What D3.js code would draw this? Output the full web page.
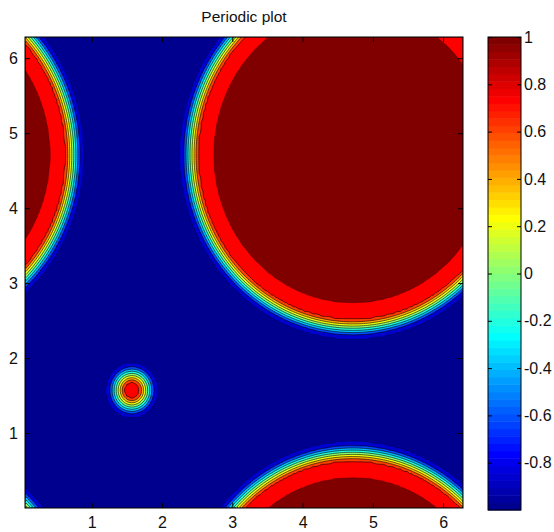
<!DOCTYPE html>
<html>
<head>
<meta charset="utf-8">
<script src="https://cdn.jsdelivr.net/npm/d3@7"></script>
<style>
  body { margin: 0; background: #fff; }
  svg { display: block; font-family: "Liberation Sans", Arial, sans-serif; }
  .tick text { fill: #111; }
</style>
</head>
<body>
<div id="chart"></div>
<script>
const TWO_PI = 2 * Math.PI;

// axis limits and ticks
const xDomain = [TWO_PI / 128, TWO_PI];
const yDomain = [0, TWO_PI];
const xTicks = [1, 2, 3, 4, 5, 6];
const yTicks = [1, 2, 3, 4, 5, 6];
const colorDomain = [-1, 1];
const colorTicks = [-0.8, -0.6, -0.4, -0.2, 0, 0.2, 0.4, 0.6, 0.8, 1];

// droplets in the periodic box (centre and edge radius)
const dropletX = [3 * Math.PI / 2, Math.PI / 2];
const dropletY = [3 * Math.PI / 2, Math.PI / 2];
const dropletR = [2.2, 0.11];

// radial profile across the interface: distance past the edge -> value
const profileS = [-0.5, -0.22, 0, 0.2, 0.25, 0.45];
const profileU = [1, 0.9, 0.7, -0.7, -0.9, -1];

// contour levels and the value used to colour each band
const levels = [-0.9, -0.7, -0.5, -0.3, -0.1, 0.1, 0.3, 0.5, 0.7, 0.9];
const bandValues = [-1, -0.85, -0.6, -0.4, -0.2, 0, 0.2, 0.4, 0.6, 0.72, 1];

// chart box
const width = 554;
const height = 532;
const plot = {left: 25, right: 463, top: 37, bottom: 508};
const bar = {left: 488, right: 521, top: 37, bottom: 510};

// MATLAB jet(64)
function jet(m) {
  const n = Math.ceil(m / 4);
  const u = [];
  for (let i = 1; i <= n; i++) u.push(i / n);
  for (let i = 1; i < n; i++) u.push(1);
  for (let i = n; i >= 1; i--) u.push(i / n);
  const off = Math.ceil(n / 2) - (m % 4 === 1 ? 1 : 0);
  const J = d3.range(m).map(() => [0, 0, 0]);
  u.forEach((v, k) => {
    const g = off + k + 1, r = g + n, b = g - n;
    if (g >= 1 && g <= m) J[g - 1][1] = v;
    if (r >= 1 && r <= m) J[r - 1][0] = v;
    if (b >= 1 && b <= m) J[b - 1][2] = v;
  });
  return J.map(c => d3.rgb(c[0] * 255, c[1] * 255, c[2] * 255).formatHex());
}
const cmap = jet(64);
const colorOf = v => {
  const k = Math.floor((v - colorDomain[0]) / (colorDomain[1] - colorDomain[0]) * 64);
  return cmap[Math.max(0, Math.min(63, k))];
};

const x = d3.scaleLinear().domain(xDomain).range([plot.left, plot.right]);
const y = d3.scaleLinear().domain(yDomain).range([plot.bottom, plot.top]);
const c = d3.scaleLinear().domain(colorDomain).range([bar.bottom, bar.top]);

// sample the field
const n = 200, m = 200;
const dx = (xDomain[1] - xDomain[0]) / n;
const dy = (yDomain[1] - yDomain[0]) / m;
const profile = d3.scaleLinear().domain(profileS).range(profileU).clamp(true);
const wrap = d => {
  d = ((d % TWO_PI) + TWO_PI) % TWO_PI;
  return Math.min(d, TWO_PI - d);
};
const values = new Float64Array(n * m);
for (let j = 0; j < m; j++) {
  const py = yDomain[0] + (j + 0.5) * dy;
  for (let i = 0; i < n; i++) {
    const px = xDomain[0] + (i + 0.5) * dx;
    let u = -1;
    for (let k = 0; k < dropletX.length; k++) {
      const r = Math.hypot(wrap(px - dropletX[k]), wrap(py - dropletY[k]));
      u = Math.max(u, profile(r - dropletR[k]));
    }
    values[j * n + i] = u;
  }
}

const contours = d3.contours().size([n, m]).thresholds(levels)(values);
const proj = d3.geoTransform({
  point: function(px, py) {
    this.stream.point(x(xDomain[0] + px * dx), y(yDomain[0] + py * dy));
  }
});
const path = d3.geoPath(proj);

const svg = d3.select("#chart").append("svg")
  .attr("width", width)
  .attr("height", height)
  .attr("viewBox", [0, 0, width, height]);

svg.append("clipPath").attr("id", "clip")
  .append("rect")
  .attr("x", plot.left).attr("y", plot.top)
  .attr("width", plot.right - plot.left).attr("height", plot.bottom - plot.top);

const field = svg.append("g").attr("clip-path", "url(#clip)");
field.append("rect")
  .attr("x", plot.left).attr("y", plot.top)
  .attr("width", plot.right - plot.left).attr("height", plot.bottom - plot.top)
  .attr("fill", colorOf(bandValues[0]));

field.selectAll("path")
  .data(contours)
  .join("path")
  .attr("d", path)
  .attr("fill", (d, i) => colorOf(bandValues[i + 1]))
  .attr("stroke", "#000")
  .attr("stroke-opacity", (d, i) => (i === 0 || i === levels.length - 1) ? 0.35 : 0.85)
  .attr("stroke-width", 0.7);

// axes with inward ticks
const fontSize = 16;
const fmt = d => String(d);
svg.append("g")
  .attr("transform", `translate(0,${plot.bottom})`)
  .call(d3.axisBottom(x).tickValues(xTicks).tickFormat(fmt).tickSizeInner(-5).tickSizeOuter(0).tickPadding(9))
  .call(g => g.select(".domain").remove())
  .call(g => g.selectAll("text").attr("font-size", fontSize));
svg.append("g")
  .attr("transform", `translate(${plot.left},0)`)
  .call(d3.axisLeft(y).tickValues(yTicks).tickFormat(fmt).tickSizeInner(-5).tickSizeOuter(0).tickPadding(7))
  .call(g => g.select(".domain").remove())
  .call(g => g.selectAll("text").attr("font-size", fontSize));
svg.append("g")
  .attr("transform", `translate(0,${plot.top})`)
  .call(d3.axisTop(x).tickValues(xTicks).tickFormat("").tickSizeInner(-5).tickSizeOuter(0))
  .call(g => g.select(".domain").remove());
svg.append("g")
  .attr("transform", `translate(${plot.right},0)`)
  .call(d3.axisRight(y).tickValues(yTicks).tickFormat("").tickSizeInner(-5).tickSizeOuter(0))
  .call(g => g.select(".domain").remove());

svg.append("rect")
  .attr("x", plot.left).attr("y", plot.top)
  .attr("width", plot.right - plot.left).attr("height", plot.bottom - plot.top)
  .attr("fill", "none").attr("stroke", "#000").attr("stroke-width", 1);

// title
svg.append("text")
  .attr("x", (plot.left + plot.right) / 2)
  .attr("y", 22)
  .attr("text-anchor", "middle")
  .attr("font-size", 15.5)
  .attr("fill", "#111")
  .text("Periodic plot");

// colorbar
const step = (colorDomain[1] - colorDomain[0]) / cmap.length;
svg.append("g").selectAll("rect")
  .data(cmap)
  .join("rect")
  .attr("x", bar.left)
  .attr("width", bar.right - bar.left)
  .attr("y", (d, i) => c(colorDomain[0] + (i + 1) * step))
  .attr("height", (d, i) => c(colorDomain[0] + i * step) - c(colorDomain[0] + (i + 1) * step) + 0.5)
  .attr("fill", d => d);

svg.append("g")
  .attr("transform", `translate(${bar.right},0)`)
  .call(d3.axisRight(c).tickValues(colorTicks).tickFormat(fmt).tickSizeInner(-4).tickSizeOuter(0).tickPadding(3))
  .call(g => g.select(".domain").remove())
  .call(g => g.selectAll("text").attr("font-size", fontSize));
svg.append("g")
  .attr("transform", `translate(${bar.left},0)`)
  .call(d3.axisLeft(c).tickValues(colorTicks).tickFormat("").tickSizeInner(-4).tickSizeOuter(0))
  .call(g => g.select(".domain").remove());

svg.append("rect")
  .attr("x", bar.left).attr("y", bar.top)
  .attr("width", bar.right - bar.left).attr("height", bar.bottom - bar.top)
  .attr("fill", "none").attr("stroke", "#000").attr("stroke-width", 1);
</script>
</body>
</html>
